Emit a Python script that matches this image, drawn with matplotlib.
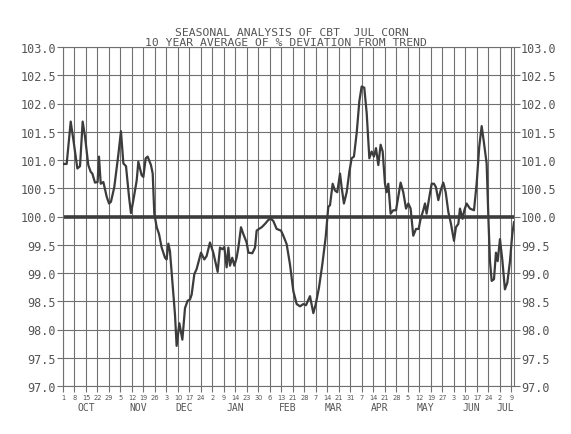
import numpy as np
import matplotlib
matplotlib.use("Agg")
import matplotlib.pyplot as plt
import matplotlib.transforms as mtransforms

# ---- data (x = weeks since Oct 1, y = % of trend) ----
weeks = [0.0, 0.32, 0.67, 0.90, 1.25, 1.48, 1.71, 1.91, 2.20, 2.41, 2.55, 2.78, 3.01, 3.13,
         3.28, 3.51, 3.80, 4.00, 4.17, 4.46, 4.81, 5.04, 5.25, 5.48, 5.74, 5.91, 6.12, 6.41,
         6.55, 6.84, 6.99, 7.19, 7.36, 7.65, 7.80, 7.94, 8.15, 8.35, 8.58, 8.87, 9.01, 9.16,
         9.30, 9.51, 9.74, 9.88, 10.12, 10.38, 10.61, 10.84, 11.04, 11.19, 11.42, 11.62,
         12.00, 12.29, 12.49, 12.78, 13.07, 13.45, 13.65, 13.86, 14.03, 14.23, 14.38, 14.52,
         14.72, 14.90, 15.10, 15.25, 15.48, 15.68, 15.97, 16.12, 16.46, 16.70, 16.84, 17.04,
         17.28, 17.57, 17.86, 18.09, 18.29, 18.58, 18.96, 19.16, 19.45, 19.74, 20.03, 20.32,
         20.61, 20.90, 21.13, 21.48, 21.77, 21.97, 22.26, 22.55, 22.84, 23.07, 23.22, 23.45,
         23.65, 23.85, 24.09, 24.23, 24.43, 24.67, 24.90, 25.10, 25.30, 25.54, 25.77, 25.97,
         26.20, 26.41, 26.64, 26.84, 27.04, 27.22, 27.42, 27.62, 27.80, 28.00, 28.14, 28.29,
         28.49, 28.72, 28.96, 29.16, 29.36, 29.59, 29.83, 30.03, 30.23, 30.46, 30.70, 30.93,
         31.10, 31.33, 31.48, 31.62, 31.86, 32.06, 32.26, 32.43, 32.64, 32.84, 33.07, 33.28,
         33.51, 33.74, 34.00, 34.17, 34.38, 34.52, 34.75, 34.90, 35.10, 35.39, 35.74, 35.97,
         36.20, 36.41, 36.61, 36.84, 36.99, 37.13, 37.28, 37.48, 37.65, 37.80, 38.00, 38.20,
         38.43, 38.64, 38.87, 39.07, 39.22]
pct = [100.93, 100.93, 101.68, 101.36, 100.85, 100.89, 101.68, 101.42, 100.91, 100.79, 100.76,
       100.60, 100.61, 101.06, 100.58, 100.61, 100.35, 100.23, 100.26, 100.52, 101.09, 101.51,
       100.94, 100.89, 100.35, 100.06, 100.29, 100.64, 100.97, 100.73, 100.70, 101.03, 101.06,
       100.91, 100.76, 100.05, 99.81, 99.69, 99.45, 99.27, 99.24, 99.52, 99.39, 98.86, 98.26,
       97.71, 98.11, 97.82, 98.38, 98.51, 98.53, 98.62, 98.98, 99.07,
       99.36, 99.24, 99.30, 99.54, 99.36, 99.02, 99.45, 99.42, 99.46, 99.10, 99.45, 99.13,
       99.27, 99.13, 99.27, 99.45, 99.81, 99.69, 99.54, 99.36, 99.35, 99.45, 99.75, 99.78,
       99.81, 99.87, 99.94, 99.96, 99.92, 99.78, 99.75, 99.66, 99.51, 99.15, 98.68, 98.45,
       98.41, 98.45, 98.43, 98.59, 98.29, 98.44, 98.74, 99.15, 99.63, 100.17, 100.20, 100.58,
       100.46, 100.43, 100.76, 100.52, 100.23, 100.43, 100.79, 101.03, 101.06, 101.48, 102.04,
       102.30, 102.28, 101.83, 101.03, 101.15, 101.06, 101.21, 100.91, 101.27, 101.15, 100.58,
       100.43, 100.58, 100.05, 100.11, 100.11, 100.35, 100.60, 100.43, 100.14, 100.23, 100.14,
       99.66, 99.78, 99.78, 99.96, 100.11, 100.23, 100.05, 100.35, 100.58, 100.58, 100.52,
       100.29, 100.46, 100.60, 100.43, 100.08, 99.87, 99.57, 99.81, 99.87, 100.14, 99.96,
       100.11, 100.23, 100.14, 100.11, 100.58, 101.24, 101.60, 101.30, 100.94, 99.99, 99.21,
       98.86, 98.89, 99.36, 99.21, 99.60, 99.24, 98.71, 98.83, 99.21, 99.69, 99.90]

day_labels = ["1", "8", "15", "22", "29", "5", "12", "19", "26", "3", "10", "17", "24",
              "2", "9", "14", "23", "30", "6", "13", "21", "28", "7", "14", "21", "31",
              "7", "14", "21", "28", "5", "12", "19", "27", "3", "10", "17", "24", "2", "9"]
months = ["OCT", "NOV", "DEC", "JAN", "FEB", "MAR", "APR", "MAY", "JUN", "JUL"]
weeks_per_month = [5, 4, 4, 5, 4, 4, 4, 4, 4, 2]
y_ticks = np.arange(97.0, 103.01, 0.5)

INK = "#3c3c3c"
GRID = "#707070"
TXT = "#555555"
MONO = "DejaVu Sans Mono"

fig = plt.figure(figsize=(5.71, 4.35), dpi=100)
ax = fig.add_axes([63 / 571, 1 - 387 / 435, (514 - 63) / 571, (387 - 48) / 435])

# grid
for w in range(len(day_labels)):
    ax.axvline(w, color=GRID, lw=0.8, zorder=1)
for yv in y_ticks:
    ax.axhline(yv, color=GRID, lw=0.8, zorder=1)
ax.axhline(100.0, color=INK, lw=2.6, zorder=2)

ax.plot(weeks, pct, color=INK, lw=1.6, zorder=3)

ax.set_xlim(0, 39.22)
ax.set_ylim(97.0, 103.0)

for s in ax.spines.values():
    s.set_color(GRID)
    s.set_linewidth(0.8)

ax.set_yticks(y_ticks)
ax.set_yticklabels(["%.1f" % v for v in y_ticks], family=MONO, fontsize=8.5, color=TXT)
ax.tick_params(axis="y", left=True, right=True, labelleft=True, labelright=True,
               length=4, width=0.8, color=GRID, pad=1)

ax.set_xticks(range(len(day_labels)))
ax.set_xticklabels(day_labels, fontsize=4.8, color=TXT)
ax.tick_params(axis="x", length=4, width=0.8, color=GRID, pad=2)

# month names under the day numbers
trans = mtransforms.blended_transform_factory(ax.transData, ax.transAxes)
start = 0
for m, n in zip(months, weeks_per_month):
    center = start + (n - 1) / 2.0
    ax.text(center, -0.062, m, transform=trans, ha="center", va="center",
            family=MONO, fontsize=7, color=TXT)
    start += n

fig.text(0.511, 1 - 32.5 / 435, "SEASONAL ANALYSIS OF CBT  JUL CORN", ha="center",
         va="center", family=MONO, fontsize=8.2, color=TXT)
fig.text(0.50, 1 - 42.5 / 435, "10 YEAR AVERAGE OF % DEVIATION FROM TREND", ha="center",
         va="center", family=MONO, fontsize=8.2, color=TXT)

fig.savefig("out.png", dpi=100, facecolor="white")
